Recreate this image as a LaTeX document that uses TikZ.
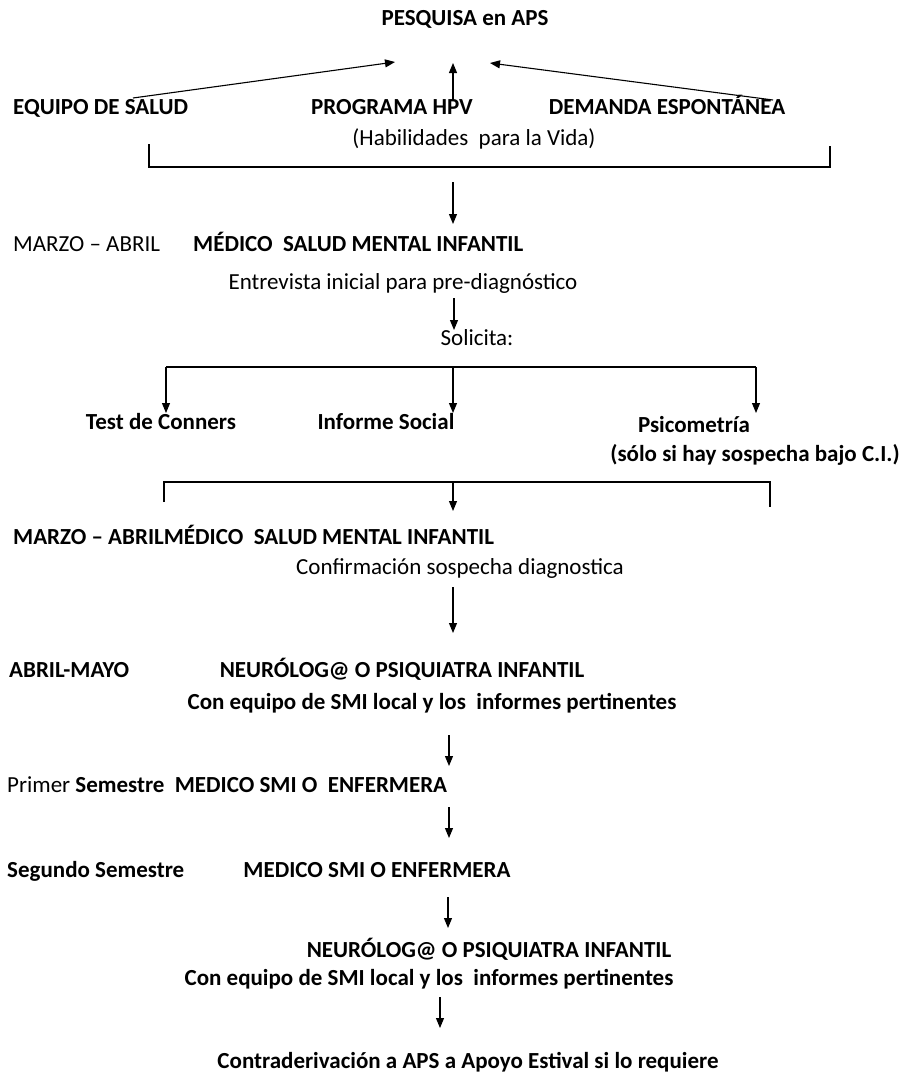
\documentclass[tikz,border=0pt]{standalone}
\usepackage{fontspec}
\setmainfont{Carlito}
\usetikzlibrary{arrows.meta}
\tikzset{
  txt/.style={inner sep=0pt, font=\fontsize{23}{27}\selectfont, anchor=mid},
  btxt/.style={txt, font=\fontsize{23}{27}\selectfont\bfseries},
  ltxt/.style={txt, anchor=mid west},
  lbtxt/.style={btxt, anchor=mid west},
  arr/.style={line width=1.1pt, -{Triangle[length=10pt,width=8pt]}},
  ln/.style={line width=1.1pt}
}
\begin{document}
\begin{tikzpicture}[x=1pt,y=-1pt]
\useasboundingbox[fill=white] (0,0) rectangle (900,1082);
% top
\node[btxt] (pesq) at (465,23) {PESQUISA en APS};
\node[lbtxt] (equipo) at (13,112) {EQUIPO DE SALUD};
\node[btxt] (hpv) at (392,112) {PROGRAMA HPV};
\node[btxt] (demanda) at (667,112) {DEMANDA ESPONT\'ANEA};
\node[txt] (habil) at (474,143) {(Habilidades\ \ para la Vida)};
\coordinate (a1s) at (133,98);  \coordinate (a1e) at (395,62);
\coordinate (a2s) at (453,100); \coordinate (a2e) at (453,63);
\coordinate (a3s) at (773,100); \coordinate (a3e) at (490,63);
\draw[arr] (a1s) -- (a1e);
\draw[arr] (a2s) -- (a2e);
\draw[arr] (a3s) -- (a3e);
% bracket 1
\coordinate (b1l) at (149,144); \coordinate (b1r) at (830,146);
\coordinate (b1m) at (453,167);
\draw[ln] (b1l) -- (149,167) -- (830,167) -- (b1r);
\coordinate (d1s) at (453,182);
% MARZO ABRIL
\node[ltxt] (marzo1) at (13,249) {MARZO -- ABRIL};
\node[lbtxt] (medico1) at (193,249) {M\'EDICO\ \ SALUD MENTAL INFANTIL};
\draw[arr] (d1s) -- (453,224) coordinate (d1e);
\node[txt] (entrev) at (403,287) {Entrevista inicial para pre-diagn\'ostico};
\node[txt] (solic) at (477,343) {Solicita:};
\draw[arr] (454,298) coordinate (d2s) -- (454,330) coordinate (d2e);
% branch
\coordinate (brl) at (166,367); \coordinate (brm) at (453,367); \coordinate (brr) at (756,367);
\draw[ln] (brl) -- (brr);
\node[btxt] (conners) at (161,427) {Test de Conners};
\node[btxt] (social) at (386,427) {Informe Social};
\node[btxt] (psico) at (694,430) {Psicometr\'ia};
\node[btxt] (solo) at (755,459) {(s\'olo si hay sospecha bajo C.I.)};
\draw[arr] (brl) -- (166,413);
\draw[arr] (brm) -- (453,413);
\draw[arr] (brr) -- (756,413);
% bracket 2
\coordinate (b2l) at (164,502); \coordinate (b2r) at (770,507); \coordinate (b2m) at (453,482);
\draw[ln] (b2l) -- (164,482) -- (770,482) -- (b2r);
\draw[arr] (b2m) -- (453,511);
\node[lbtxt] (marzo2) at (13,542) {MARZO -- ABRILM\'EDICO\ \ SALUD MENTAL INFANTIL};
\node[txt] (confirm) at (460,572) {Confirmaci\'on sospecha diagnostica};
\draw[arr] (453,587) -- (453,633);
\node[lbtxt] (abril) at (9,675) {ABRIL-MAYO};
\node[btxt] (neuro1) at (402,675) {NEUR\'OLOG@ O PSIQUIATRA INFANTIL};
\node[btxt] (con1) at (432,707) {Con equipo de SMI local y los\ \ informes pertinentes};
\draw[arr] (449,735) -- (449,766);
\node[ltxt] (primer) at (7,790) {Primer \textbf{Semestre\ \ MEDICO SMI O\ \ ENFERMERA}};
\draw[arr] (449,807) -- (449,838);
\node[lbtxt] (segundo) at (7,875) {Segundo Semestre};
\node[btxt] (medico3) at (377,875) {MEDICO SMI O ENFERMERA};
\draw[arr] (448,897) -- (448,928);
\node[btxt] (neuro2) at (489,955) {NEUR\'OLOG@ O PSIQUIATRA INFANTIL};
\node[btxt] (con2) at (429,983) {Con equipo de SMI local y los\ \ informes pertinentes};
\draw[arr] (440,997) -- (440,1028);
\node[btxt] (contra) at (468,1066) {Contraderivaci\'on a APS a Apoyo Estival si lo requiere};
\end{tikzpicture}
\end{document}
